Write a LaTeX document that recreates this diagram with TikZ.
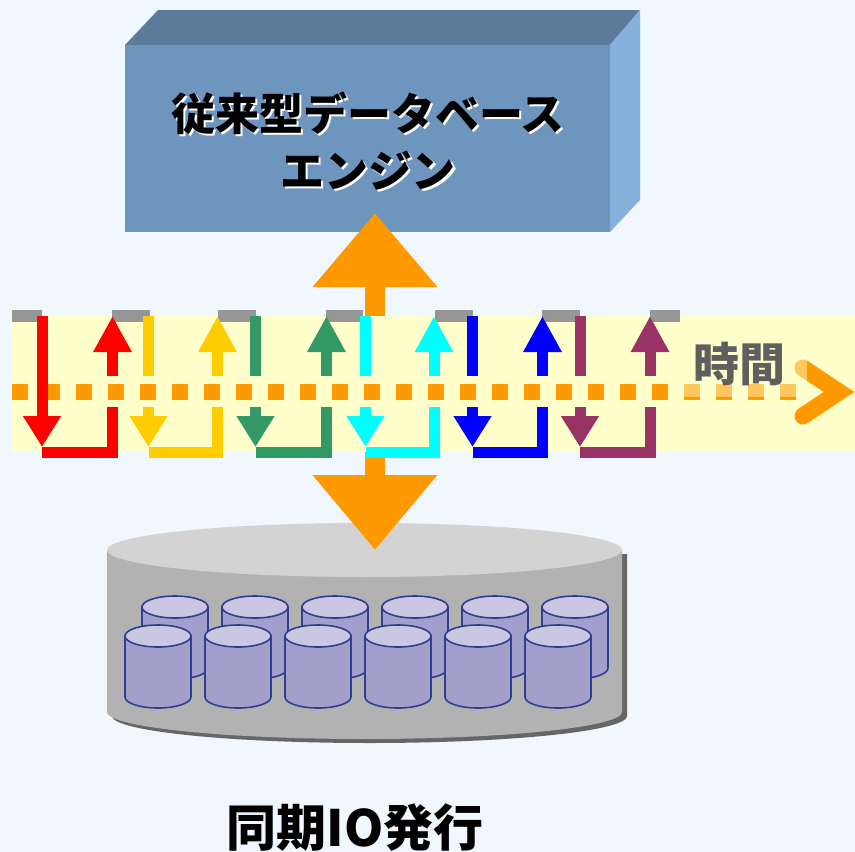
\documentclass[tikz,border=0pt]{standalone}
\usepackage{fontspec}
\newfontfamily\jp{Noto Sans CJK JP}
\usepackage{xcolor}
\usetikzlibrary{arrows.meta}
\definecolor{paper}{HTML}{F0F7FF}
\definecolor{band}{HTML}{FFFFCC}
\definecolor{stubGray}{HTML}{969696}
\definecolor{boxFront}{HTML}{6D95BD}
\definecolor{boxTop}{HTML}{5C7B9A}
\definecolor{boxSide}{HTML}{88B0DD}
\definecolor{diskBody}{HTML}{B2B2B2}
\definecolor{diskTop}{HTML}{D3D3D3}
\definecolor{diskShadow}{HTML}{666666}
\definecolor{drumBody}{HTML}{A39FCB}
\definecolor{drumTop}{HTML}{C9C7E2}
\definecolor{drumLine}{HTML}{2E3F92}
\definecolor{cOrange}{HTML}{FF9900}
\definecolor{cRed}{HTML}{FF0000}
\definecolor{cGold}{HTML}{FFCC00}
\definecolor{cGreen}{HTML}{339966}
\definecolor{cCyan}{HTML}{00FFFF}
\definecolor{cBlue}{HTML}{0000FF}
\definecolor{cPlum}{HTML}{993366}
\definecolor{timeGray}{HTML}{5F5F5F}
\tikzset{
  lane/.style={line width=11pt},
  drum/.style={draw=drumLine, line width=1.6pt},
  jlbl/.style={font=\jp\bfseries\fontsize{44}{57}\selectfont, text=black, align=center},
}

\begin{document}
\begin{tikzpicture}[x=1pt, y=-1pt]
\fill[paper] (0,0) rectangle (855,852);
\useasboundingbox (0,0) rectangle (855,852);
% engine block
\fill[boxTop] (125,45) -- (158,10) -- (640,10) -- (610,45) -- cycle;
\fill[boxSide] (610,45) -- (640,10) -- (640,200) -- (610,232) -- cycle;
\fill[boxFront] (125,45) rectangle (610,232);
\node[jlbl, text=white] at (370,143) {従来型データベース\\エンジン};
\node[jlbl] (engine) at (368,141) {従来型データベース\\エンジン};
% disk array
\begin{scope}[shift={(5,4)}]
\fill[diskShadow] (107,550) -- (107,712) arc[start angle=180, end angle=0, x radius=257.5, y radius=27] -- (622,550) -- cycle;
\end{scope}
\fill[diskBody] (107,550) -- (107,712) arc[start angle=180, end angle=0, x radius=257.5, y radius=27] -- (622,550) -- cycle;
\fill[diskTop] (364.5,550) ellipse[x radius=257.5, y radius=27];
\foreach \cx in {175,255,335,415,495,575} {
  \filldraw[drum, fill=drumBody] (\cx-33,607) -- (\cx-33,668) arc[start angle=180, end angle=0, x radius=33, y radius=11] -- (\cx+33,607) -- cycle;
  \filldraw[drum, fill=drumTop] (\cx,607) ellipse[x radius=33, y radius=11];
}
\foreach \cx in {158,238,318,398,478,558} {
  \filldraw[drum, fill=drumBody] (\cx-33,636) -- (\cx-33,697) arc[start angle=180, end angle=0, x radius=33, y radius=11] -- (\cx+33,636) -- cycle;
  \filldraw[drum, fill=drumTop] (\cx,636) ellipse[x radius=33, y radius=11];
}
% two-way request arrow
\coordinate (upTip) at (375,213);
\coordinate (downTip) at (375,550);
\draw[cOrange, line width=20pt, {Triangle[length=74pt,width=120pt]}-{Triangle[length=75pt,width=120pt]}] (upTip) -- (downTip);
% time band
\fill[band] (12,316) rectangle (855,452);
\foreach \a/\b in {12/42, 112/150, 218/256, 326/363, 435/473, 542/580, 650/680}
  \fill[stubGray] (\a,310) rectangle (\b,322);
\draw[cOrange, line width=16pt, dash pattern=on 16pt off 16pt] (12,392) -- (800,392);
\draw[cOrange, line width=17pt, line cap=round, miter limit=10] (803,368) -- (839,392) -- (803,416);
\foreach \l/\r/\c in {42/112.5/cRed, 148.5/217.5/cGold, 255.5/326.5/cGreen, 365.5/434/cCyan, 472.5/542.5/cBlue, 580/650/cPlum} {
  \draw[lane, \c] (\l,316) -- (\l,376);
  \draw[lane, \c, -{Triangle[length=36pt,width=36pt]}] (\r,376) -- (\r,316);
  \draw[lane, \c, -{Triangle[length=31pt,width=36pt]}] (\l,407) -- (\l,447);
  \draw[lane, \c] (\l,452.5) -- (\r,452.5) -- (\r,407);
}
\draw[lane, cRed] (42,370) -- (42,412);
\fill[band, opacity=0.46] (684,340) rectangle (807,397);
\node[font=\jp\bfseries\fontsize{46}{50}\selectfont, text=timeGray] (time) at (739,364) {時間};
% caption
\node[font=\jp\bfseries\fontsize{50}{54}\selectfont] (sync) at (355,828) {同期IO発行};
\end{tikzpicture}
\end{document}
